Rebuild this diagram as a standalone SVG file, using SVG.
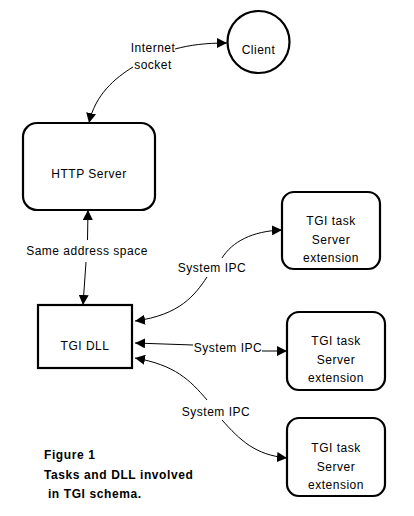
<svg xmlns="http://www.w3.org/2000/svg" width="414" height="516" viewBox="0 0 414 516">
<style>
.box{fill:#fff;stroke:#000;stroke-width:2.2}
.t{font-family:"Liberation Sans",Arial,sans-serif;font-size:12px;fill:#000;text-anchor:middle;letter-spacing:0.5px}
.cap{font-family:"Liberation Sans",Arial,sans-serif;font-size:12px;font-weight:bold;fill:#000;letter-spacing:0.6px}
.c{fill:none;stroke:#000;stroke-width:1}
.ce{marker-end:url(#ah)}
</style>
<defs>
<marker id="ah" markerUnits="userSpaceOnUse" markerWidth="11" markerHeight="10" refX="10" refY="5" orient="auto">
<path d="M0,0 L10,5 L0,10 Z" fill="#000"/>
</marker>
</defs>
<rect width="414" height="516" fill="#fff"/>
<g id="connectors">
<path class="c ce" d="M133,67 C115,78 95,95 89,123"/>
<path class="c ce" d="M175,49 C190,45 205,43 227,43"/>
<path class="c ce" d="M87.5,240 L88,210"/>
<path class="c ce" d="M86,262 L83,305"/>
<path class="c ce" d="M222,258 C232,242 252,231 282,230"/>
<path class="c ce" d="M207,277 C195,295 180,315 135,321"/>
<path class="c ce" d="M193,345 L135,343"/>
<path class="c ce" d="M262,351 L287,351"/>
<path class="c ce" d="M207,400 C190,380 175,365 135,358"/>
<path class="c ce" d="M222,420 C240,440 255,455 287,458"/>
</g>
<g id="client">
<circle class="box" cx="258.5" cy="42" r="31"/>
<text class="t" x="258.5" y="54">Client</text>
</g>
<g id="http-server">
<rect class="box" x="23" y="123" width="132" height="87" rx="14"/>
<text class="t" x="89" y="178">HTTP Server</text>
</g>
<g id="tgi-dll">
<rect class="box" x="38" y="305" width="94" height="63"/>
<text class="t" x="85" y="350">TGI DLL</text>
</g>
<g id="task1">
<rect class="box" x="282" y="192" width="98" height="77" rx="12"/>
<text class="t" x="331" y="225">TGI task</text>
<text class="t" x="331" y="244">Server</text>
<text class="t" x="331" y="262">extension</text>
</g>
<g id="task2">
<rect class="box" x="287" y="312" width="98" height="78" rx="12"/>
<text class="t" x="336" y="345">TGI task</text>
<text class="t" x="336" y="364">Server</text>
<text class="t" x="336" y="382">extension</text>
</g>
<g id="task3">
<rect class="box" x="287" y="418" width="98" height="78" rx="12"/>
<text class="t" x="336" y="452">TGI task</text>
<text class="t" x="336" y="471">Server</text>
<text class="t" x="336" y="489">extension</text>
</g>
<g id="labels">
<text class="t" x="153" y="52">Internet</text>
<text class="t" x="153" y="69">socket</text>
<text class="t" x="87" y="255">Same address space</text>
<text class="t" x="212" y="272">System IPC</text>
<text class="t" x="228" y="352">System IPC</text>
<text class="t" x="216" y="416">System IPC</text>
</g>
<g id="caption">
<text class="cap" x="44" y="459">Figure 1</text>
<text class="cap" x="44" y="479">Tasks and DLL involved</text>
<text class="cap" x="44" y="498" xml:space="preserve"> in TGI schema.</text>
</g>
</svg>
